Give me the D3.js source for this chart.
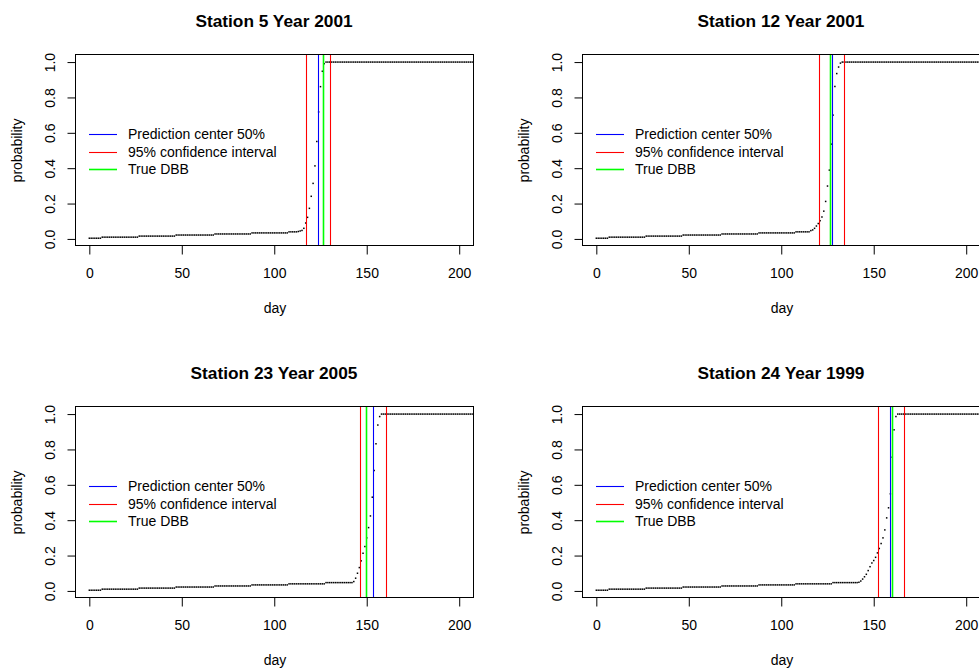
<!DOCTYPE html>
<html>
<head>
<meta charset="utf-8">
<script src="https://cdn.jsdelivr.net/npm/d3@7"></script>
<style>
  body { margin: 0; background: #fff; }
  text { font-family: "Liberation Sans", Arial, sans-serif; fill: #000; }
</style>
</head>
<body>
<svg id="fig" width="979" height="671"></svg>
<script>
// Daily probability that the break date has passed (index = day, starting at day 0)
const probStation5_2001 = [
  0.004,0.004,0.004,0.004,0.004,0.004,0.004,0.010,0.010,0.010,0.010,0.010,0.010,0.010,0.010,0.010,0.010,0.010,0.010,0.010,
  0.010,0.010,0.010,0.010,0.010,0.010,0.010,0.016,0.016,0.016,0.016,0.016,0.016,0.016,0.016,0.016,0.016,0.016,0.016,0.016,
  0.016,0.016,0.016,0.016,0.016,0.016,0.016,0.022,0.022,0.022,0.022,0.022,0.022,0.022,0.022,0.022,0.022,0.022,0.022,0.022,
  0.022,0.022,0.022,0.022,0.022,0.022,0.022,0.022,0.028,0.028,0.028,0.028,0.028,0.028,0.028,0.028,0.028,0.028,0.028,0.028,
  0.028,0.028,0.028,0.028,0.028,0.028,0.028,0.028,0.034,0.034,0.034,0.034,0.034,0.034,0.034,0.034,0.034,0.034,0.034,0.034,
  0.034,0.034,0.034,0.034,0.034,0.034,0.034,0.034,0.040,0.040,0.040,0.040,0.040,0.042,0.045,0.048,0.060,0.090,0.122,0.173,
  0.241,0.314,0.413,0.551,0.718,0.861,0.948,0.991,1,1,1,1,1,1,1,1,1,1,1,1,
  1,1,1,1,1,1,1,1,1,1,1,1,1,1,1,1,1,1,1,1,
  1,1,1,1,1,1,1,1,1,1,1,1,1,1,1,1,1,1,1,1,
  1,1,1,1,1,1,1,1,1,1,1,1,1,1,1,1,1,1,1,1,
  1,1,1,1,1,1,1,1
];
const probStation12_2001 = [
  0.004,0.004,0.004,0.004,0.004,0.004,0.004,0.010,0.010,0.010,0.010,0.010,0.010,0.010,0.010,0.010,0.010,0.010,0.010,0.010,
  0.010,0.010,0.010,0.010,0.010,0.010,0.010,0.016,0.016,0.016,0.016,0.016,0.016,0.016,0.016,0.016,0.016,0.016,0.016,0.016,
  0.016,0.016,0.016,0.016,0.016,0.016,0.016,0.022,0.022,0.022,0.022,0.022,0.022,0.022,0.022,0.022,0.022,0.022,0.022,0.022,
  0.022,0.022,0.022,0.022,0.022,0.022,0.022,0.022,0.028,0.028,0.028,0.028,0.028,0.028,0.028,0.028,0.028,0.028,0.028,0.028,
  0.028,0.028,0.028,0.028,0.028,0.028,0.028,0.028,0.034,0.034,0.034,0.034,0.034,0.034,0.034,0.034,0.034,0.034,0.034,0.034,
  0.034,0.034,0.034,0.034,0.034,0.034,0.034,0.034,0.040,0.040,0.040,0.040,0.040,0.040,0.040,0.040,0.047,0.051,0.060,0.073,
  0.087,0.103,0.124,0.157,0.212,0.299,0.389,0.536,0.700,0.862,0.935,0.972,0.994,1,1,1,1,1,1,1,
  1,1,1,1,1,1,1,1,1,1,1,1,1,1,1,1,1,1,1,1,
  1,1,1,1,1,1,1,1,1,1,1,1,1,1,1,1,1,1,1,1,
  1,1,1,1,1,1,1,1,1,1,1,1,1,1,1,1,1,1,1,1,
  1,1,1,1,1,1,1,1
];
const probStation23_2005 = [
  0.004,0.004,0.004,0.004,0.004,0.004,0.004,0.010,0.010,0.010,0.010,0.010,0.010,0.010,0.010,0.010,0.010,0.010,0.010,0.010,
  0.010,0.010,0.010,0.010,0.010,0.010,0.010,0.016,0.016,0.016,0.016,0.016,0.016,0.016,0.016,0.016,0.016,0.016,0.016,0.016,
  0.016,0.016,0.016,0.016,0.016,0.016,0.016,0.022,0.022,0.022,0.022,0.022,0.022,0.022,0.022,0.022,0.022,0.022,0.022,0.022,
  0.022,0.022,0.022,0.022,0.022,0.022,0.022,0.022,0.028,0.028,0.028,0.028,0.028,0.028,0.028,0.028,0.028,0.028,0.028,0.028,
  0.028,0.028,0.028,0.028,0.028,0.028,0.028,0.028,0.034,0.034,0.034,0.034,0.034,0.034,0.034,0.034,0.034,0.034,0.034,0.034,
  0.034,0.034,0.034,0.034,0.034,0.034,0.034,0.034,0.040,0.040,0.040,0.040,0.040,0.040,0.040,0.040,0.040,0.040,0.040,0.040,
  0.040,0.040,0.040,0.040,0.040,0.040,0.040,0.040,0.047,0.047,0.047,0.047,0.047,0.047,0.047,0.047,0.047,0.047,0.047,0.047,
  0.047,0.047,0.047,0.053,0.072,0.100,0.132,0.170,0.213,0.251,0.300,0.358,0.424,0.530,0.681,0.832,0.938,0.986,1,1,
  1,1,1,1,1,1,1,1,1,1,1,1,1,1,1,1,1,1,1,1,
  1,1,1,1,1,1,1,1,1,1,1,1,1,1,1,1,1,1,1,1,
  1,1,1,1,1,1,1,1
];
const probStation24_1999 = [
  0.004,0.004,0.004,0.004,0.004,0.004,0.004,0.010,0.010,0.010,0.010,0.010,0.010,0.010,0.010,0.010,0.010,0.010,0.010,0.010,
  0.010,0.010,0.010,0.010,0.010,0.010,0.010,0.016,0.016,0.016,0.016,0.016,0.016,0.016,0.016,0.016,0.016,0.016,0.016,0.016,
  0.016,0.016,0.016,0.016,0.016,0.016,0.016,0.022,0.022,0.022,0.022,0.022,0.022,0.022,0.022,0.022,0.022,0.022,0.022,0.022,
  0.022,0.022,0.022,0.022,0.022,0.022,0.022,0.022,0.028,0.028,0.028,0.028,0.028,0.028,0.028,0.028,0.028,0.028,0.028,0.028,
  0.028,0.028,0.028,0.028,0.028,0.028,0.028,0.028,0.034,0.034,0.034,0.034,0.034,0.034,0.034,0.034,0.034,0.034,0.034,0.034,
  0.034,0.034,0.034,0.034,0.034,0.034,0.034,0.034,0.040,0.040,0.040,0.040,0.040,0.040,0.040,0.040,0.040,0.040,0.040,0.040,
  0.040,0.040,0.040,0.040,0.040,0.040,0.040,0.040,0.047,0.047,0.047,0.047,0.047,0.047,0.047,0.047,0.047,0.047,0.047,0.047,
  0.047,0.047,0.049,0.056,0.067,0.080,0.094,0.115,0.137,0.158,0.172,0.190,0.215,0.240,0.268,0.300,0.345,0.413,0.470,0.549,
  0.756,0.911,0.986,1,1,1,1,1,1,1,1,1,1,1,1,1,1,1,1,1,
  1,1,1,1,1,1,1,1,1,1,1,1,1,1,1,1,1,1,1,1,
  1,1,1,1,1,1,1,1
];

const panelTitles = ["Station 5 Year 2001", "Station 12 Year 2001", "Station 23 Year 2005", "Station 24 Year 1999"];
const panelSeries = [probStation5_2001, probStation12_2001, probStation23_2005, probStation24_1999];
const centerDay = [123.8, 127.6, 153.6, 159.2];   // prediction center 50%
const lowerDay  = [117.3, 120.6, 146.9, 152.8];   // 95% interval, lower bound
const upperDay  = [130.3, 134.1, 160.7, 166.4];   // 95% interval, upper bound
const trueDay   = [126.7, 126.6, 150.0, 160.3];   // observed DBB

const xTicks = [0, 50, 100, 150, 200];
const yTicks = [0, 0.2, 0.4, 0.6, 0.8, 1.0];
const legendLabels = ["Prediction center 50%", "95% confidence interval", "True DBB"];
const legendColors = ["#0000ff", "#ff0000", "#00ff00"];
const legendWidths = [1.1, 1.1, 1.6];

// ---- layout ----
const W = 398, H = 191;
const origins = [[76, 55], [583, 55], [76, 407], [583, 407]];
const FONT = "'Liberation Sans', Arial, sans-serif";
const snap = v => Math.floor(v) + 0.5;   // 1px lines on pixel centres

const svg = d3.select("#fig");
svg.append("rect").attr("width", 979).attr("height", 671).attr("fill", "#fff");

panelSeries.forEach((series, k) => {
  const [left, top] = origins[k];
  const g = svg.append("g");

  const x = d3.scaleLinear().domain([-7.2, 208]).range([left, left + W]);
  const y = d3.scaleLinear().domain([-0.04, 1.04]).range([top + H, top]);

  const clipId = "clip" + k;
  svg.append("clipPath").attr("id", clipId)
    .append("rect").attr("x", left).attr("y", top).attr("width", W).attr("height", H);

  // points
  g.append("g").attr("clip-path", `url(#${clipId})`)
    .selectAll("rect").data(series).join("rect")
    .attr("x", (d, i) => x(i) - 0.75)
    .attr("y", d => y(d) - 0.75)
    .attr("width", 1.5).attr("height", 1.5)
    .attr("fill", "#000");

  // vertical reference lines
  const vlines = [
    [centerDay[k], 0],
    [lowerDay[k], 1],
    [upperDay[k], 1],
    [trueDay[k], 2]
  ];
  vlines.forEach(([v, c]) => {
    const px = snap(x(v));
    g.append("line")
      .attr("x1", px).attr("x2", px)
      .attr("y1", top).attr("y2", top + H)
      .attr("stroke", legendColors[c]).attr("stroke-width", legendWidths[c]);
  });

  // box
  g.append("rect").attr("x", left - 0.5).attr("y", top - 0.5).attr("width", W).attr("height", H)
    .attr("fill", "none").attr("stroke", "#000").attr("stroke-width", 1);

  // x axis
  const xa = g.append("g").attr("transform", `translate(0,${top + H})`)
    .call(d3.axisBottom(x).tickValues(xTicks).tickFormat(d3.format("d")).tickSize(8.5).tickSizeOuter(0));
  xa.select(".domain").remove();
  xa.selectAll("line").attr("stroke", "#000");
  xa.selectAll("text").attr("y", 32).attr("dy", null)
    .style("font-size", "14px").style("font-family", FONT).attr("fill", "#000");

  // y axis (labels parallel to the axis)
  const ya = g.append("g").attr("transform", `translate(${left},0)`)
    .call(d3.axisLeft(y).tickValues(yTicks).tickFormat(d3.format(".1f")).tickSize(8.5).tickSizeOuter(0));
  ya.select(".domain").remove();
  ya.selectAll("line").attr("stroke", "#000");
  ya.selectAll("text")
    .attr("x", null).attr("dy", null)
    .attr("text-anchor", "middle")
    .attr("transform", "translate(-21,0) rotate(-90)")
    .style("font-size", "14px").style("font-family", FONT).attr("fill", "#000");

  // titles and axis labels
  g.append("text").attr("x", left + W / 2 - 1).attr("y", top - 28.5)
    .attr("text-anchor", "middle").style("font-size", "17.3px").style("font-weight", "bold")
    .text(panelTitles[k]);
  g.append("text").attr("x", left + W / 2).attr("y", top + H + 66.5)
    .attr("text-anchor", "middle").style("font-size", "14px").text("day");
  g.append("text").attr("transform", `translate(${left - 54},${top + H / 2}) rotate(-90)`)
    .attr("text-anchor", "middle").style("font-size", "14px").text("probability");

  // legend
  const rows = [79.5, 97.5, 114.5];
  legendLabels.forEach((lab, i) => {
    const ly = top + rows[i];
    g.append("line").attr("x1", left + 13).attr("x2", left + 41)
      .attr("y1", ly).attr("y2", ly).attr("stroke", legendColors[i]).attr("stroke-width", legendWidths[i]);
    g.append("text").attr("x", left + 52).attr("y", ly).attr("dy", "0.35em")
      .style("font-size", "14px").text(lab);
  });
});
</script>
</body>
</html>
